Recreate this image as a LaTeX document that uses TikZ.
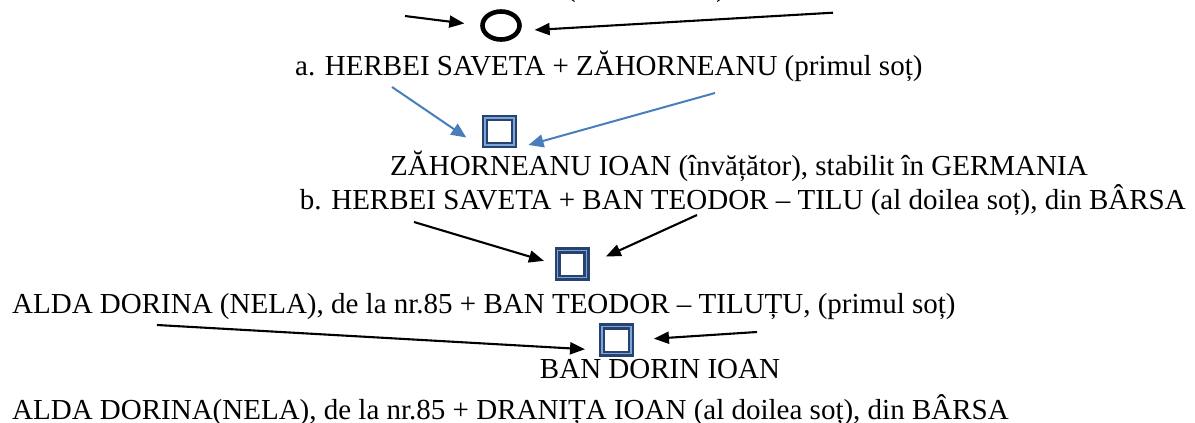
\documentclass[tikz,border=0pt]{standalone}
\usepackage{fontspec}
\setmainfont{Liberation Serif}
\usetikzlibrary{arrows.meta,shapes.geometric}
\definecolor{boxdark}{RGB}{38,66,112}
\definecolor{boxlight}{RGB}{125,165,215}
\definecolor{arrblue}{RGB}{74,126,187}
\tikzset{
  txt/.style={anchor=base west,inner sep=0pt,font=\fontsize{29}{34}\selectfont},
  famsq/.style={rectangle,draw=boxdark,line width=2.4pt,double=boxlight,double distance=1.4pt,
    fill=white,minimum width=28.8pt,minimum height=27.2pt,inner sep=0pt,outer sep=3.1pt},
  famcirc/.style={ellipse,draw=black,line width=4.6pt,minimum width=37pt,minimum height=28pt,inner sep=0pt,outer sep=2.3pt},
  blkarrow/.style={draw=black,line width=2.1pt,-{Triangle[length=15pt,width=12pt]}},
  bluearrow/.style={draw=arrblue,line width=2pt,-{Triangle[length=15pt,width=13pt]}}
}
\begin{document}
\begin{tikzpicture}[x=1pt,y=-1pt]
\useasboundingbox (0,0) rectangle (1195,423);
% cut-off fragments of a line above the picture
\node[txt] (p1) at (566,-4) {(};
\node[txt] (p2) at (716,-4) {)};
% circle
\node[famcirc] (c) at (501,25.5) {};
\coordinate (s1) at (405,16);
\coordinate (s2) at (833,12.7);
\draw[blkarrow,shorten >=16pt] (s1) -- (c.west);
\draw[blkarrow,shorten >=14pt] (s2) -- (c.-15);
% line a
\node[txt] (la) at (295,75) {a. HERBEI SAVETA + ZĂHORNEANU (primul soț)};
% box 1
\node[famsq] (b1) at (499.5,131.5) {};
\coordinate (s3) at (392,87);
\coordinate (s4) at (715,93);
\draw[bluearrow,shorten >=19pt] (s3) -- (b1.south west);
\draw[bluearrow,shorten >=12pt] (s4) -- (b1.south east);
% lines z and b
\node[txt] (lz) at (390,175) {ZĂHORNEANU IOAN (învățător), stabilit în GERMANIA};
\node[txt,anchor=base east] (lb) at (1186,209) {b. HERBEI SAVETA + BAN TEODOR – TILU (al doilea soț), din BÂRSA};
% box 2
\node[famsq] (b2) at (572,264) {};
\coordinate (s5) at (414,222);
\coordinate (s6) at (697,215);
\draw[blkarrow,shorten >=11pt] (s5) -- (b2.west);
\draw[blkarrow,shorten >=18pt] (s6) -- (b2.east);
% line alda 1
\node[txt] (l1) at (12,313) {ALDA DORINA (NELA), de la nr.85 + BAN TEODOR – TILUȚU, (primul soț)};
% box 3
\node[famsq] (b3) at (616.5,340) {};
\coordinate (s7) at (157,325);
\coordinate (s8) at (757,332);
\draw[blkarrow,shorten >=14pt] (s7) -- ([yshift=-10pt]b3.west);
\draw[blkarrow,shorten >=20pt] (s8) -- (b3.east);
\node[txt,anchor=base] (bd) at (660,378) {BAN DORIN IOAN};
\node[txt] (l2) at (12,419) {ALDA DORINA(NELA), de la nr.85 + DRANIȚA IOAN (al doilea soț), din BÂRSA};
\end{tikzpicture}
\end{document}
